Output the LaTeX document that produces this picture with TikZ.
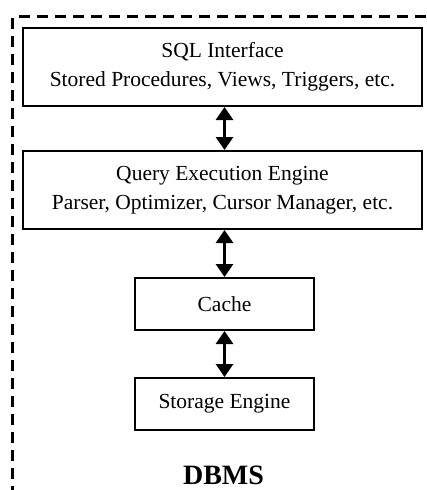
\documentclass[tikz,border=0pt]{standalone}
\usepackage{fontspec}
\setmainfont{Liberation Serif}
\usetikzlibrary{arrows.meta,calc}
\begin{document}
\begin{tikzpicture}[x=1pt,y=1pt,
  layer/.style={draw,line width=2pt,align=center,inner sep=0pt,
    font=\fontsize{21.5}{29}\selectfont},
  link/.style={line width=3pt,
    {Triangle[width=17pt,length=13pt]}-{Triangle[width=17pt,length=13pt]}},
  frame/.style={line width=3pt,dash pattern=on 11pt off 7pt}]
\useasboundingbox (0,0) rectangle (427,-490);

% dashed enclosure (only its top and left edges fall inside the page)
\draw[frame] (19,-16) -- (440,-16);
\draw[frame] (12,-18) -- (12,-500);

% layers
\node[layer,minimum width=399pt,minimum height=78pt] (sql) at (222.5,-67)
  {SQL Interface\\Stored Procedures, Views, Triggers, etc.};
\node[layer,minimum width=399pt,minimum height=78pt] (qee) at (222.5,-190)
  {Query Execution Engine\\Parser, Optimizer, Cursor Manager, etc.};
\node[layer,minimum width=179pt,minimum height=52pt] (cache) at (224.5,-304)
  {Cache};
\node[layer,minimum width=179pt,minimum height=52pt] (storage) at (224.5,-404)
  {Storage Engine};

% two-way links between layers
\draw[link] (sql.south -| cache.north) -- (qee.north -| cache.north);
\draw[link] (qee.south -| cache.north) -- (cache.north);
\draw[link] (cache.south) -- (storage.north);

\node[anchor=base,inner sep=0pt,font=\fontsize{28}{32}\selectfont\bfseries]
  (title) at (223.5,-484) {DBMS};
\end{tikzpicture}
\end{document}
